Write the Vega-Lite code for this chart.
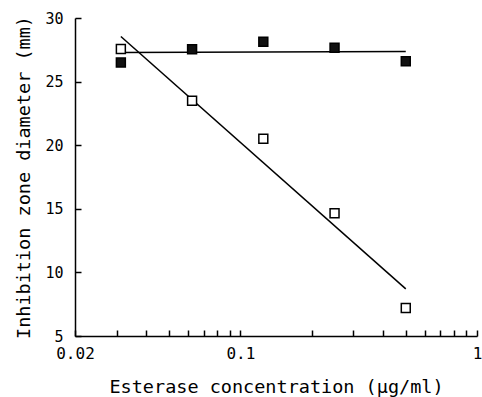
{
  "$schema": "https://vega.github.io/schema/vega-lite/v6.json",
  "autosize": "none",
  "width": 402,
  "height": 318,
  "padding": {"left": 75, "top": 18, "right": 5, "bottom": 61},
  "background": "white",
  "config": {
    "view": {"stroke": null},
    "axis": {
      "grid": false,
      "domainColor": "black",
      "domainWidth": 1.5,
      "tickColor": "black",
      "tickWidth": 1.5,
      "tickSize": -6,
      "labelColor": "black",
      "labelFont": "DejaVu Sans Mono",
      "labelFontSize": 16,
      "titleColor": "black",
      "titleFont": "DejaVu Sans Mono",
      "titleFontSize": 18.5,
      "titleFontWeight": "normal",
      "labelOverlap": false,
      "labelFlush": false,
      "labelBound": false
    }
  },
  "datasets": {
    "points": [
      {"conc": 0.03125, "diameter": 27.56, "series": "open"},
      {"conc": 0.0625, "diameter": 23.5, "series": "open"},
      {"conc": 0.125, "diameter": 20.5, "series": "open"},
      {"conc": 0.25, "diameter": 14.65, "series": "open"},
      {"conc": 0.5, "diameter": 7.2, "series": "open"},
      {"conc": 0.03125, "diameter": 26.5, "series": "filled"},
      {"conc": 0.0625, "diameter": 27.55, "series": "filled"},
      {"conc": 0.125, "diameter": 28.13, "series": "filled"},
      {"conc": 0.25, "diameter": 27.66, "series": "filled"},
      {"conc": 0.5, "diameter": 26.6, "series": "filled"}
    ],
    "fits": [
      {"conc": 0.03125, "diameter": 28.55, "series": "open"},
      {"conc": 0.5, "diameter": 8.7, "series": "open"},
      {"conc": 0.03125, "diameter": 27.28, "series": "filled"},
      {"conc": 0.5, "diameter": 27.36, "series": "filled"}
    ]
  },
  "layer": [
    {
      "data": {"name": "fits"},
      "mark": {"type": "line", "color": "black", "strokeWidth": 1.5},
      "encoding": {
        "x": {"field": "conc", "type": "quantitative"},
        "y": {"field": "diameter", "type": "quantitative"},
        "detail": {"field": "series"}
      }
    },
    {
      "data": {"name": "points"},
      "mark": {"type": "point", "shape": "square", "size": 80, "filled": true, "stroke": "black", "strokeWidth": 1.5, "opacity": 1},
      "encoding": {
        "x": {
          "field": "conc",
          "type": "quantitative",
          "scale": {"type": "log", "domain": [0.02, 1], "nice": false},
          "axis": {
            "title": "Esterase concentration (µg/ml)",
            "values": [0.02, 0.03, 0.04, 0.05, 0.06, 0.07, 0.08, 0.09, 0.1, 0.2, 0.3, 0.4, 0.5, 0.6, 0.7, 0.8, 0.9, 1],
            "format": "~g",
            "labelExpr": "indexof([0.02, 0.1, 1], datum.value) >= 0 ? datum.label : ''",
            "labelPadding": 15,
            "titlePadding": 16
          }
        },
        "y": {
          "field": "diameter",
          "type": "quantitative",
          "scale": {"domain": [5, 30], "nice": false, "zero": false},
          "axis": {
            "title": "Inhibition zone diameter (mm)",
            "values": [5, 10, 15, 20, 25, 30],
            "labelFontSize": 15,
            "labelPadding": 18,
            "titlePadding": 11
          }
        },
        "fill": {
          "field": "series",
          "type": "nominal",
          "scale": {"domain": ["open", "filled"], "range": ["white", "#111111"]},
          "legend": null
        }
      }
    }
  ]
}
